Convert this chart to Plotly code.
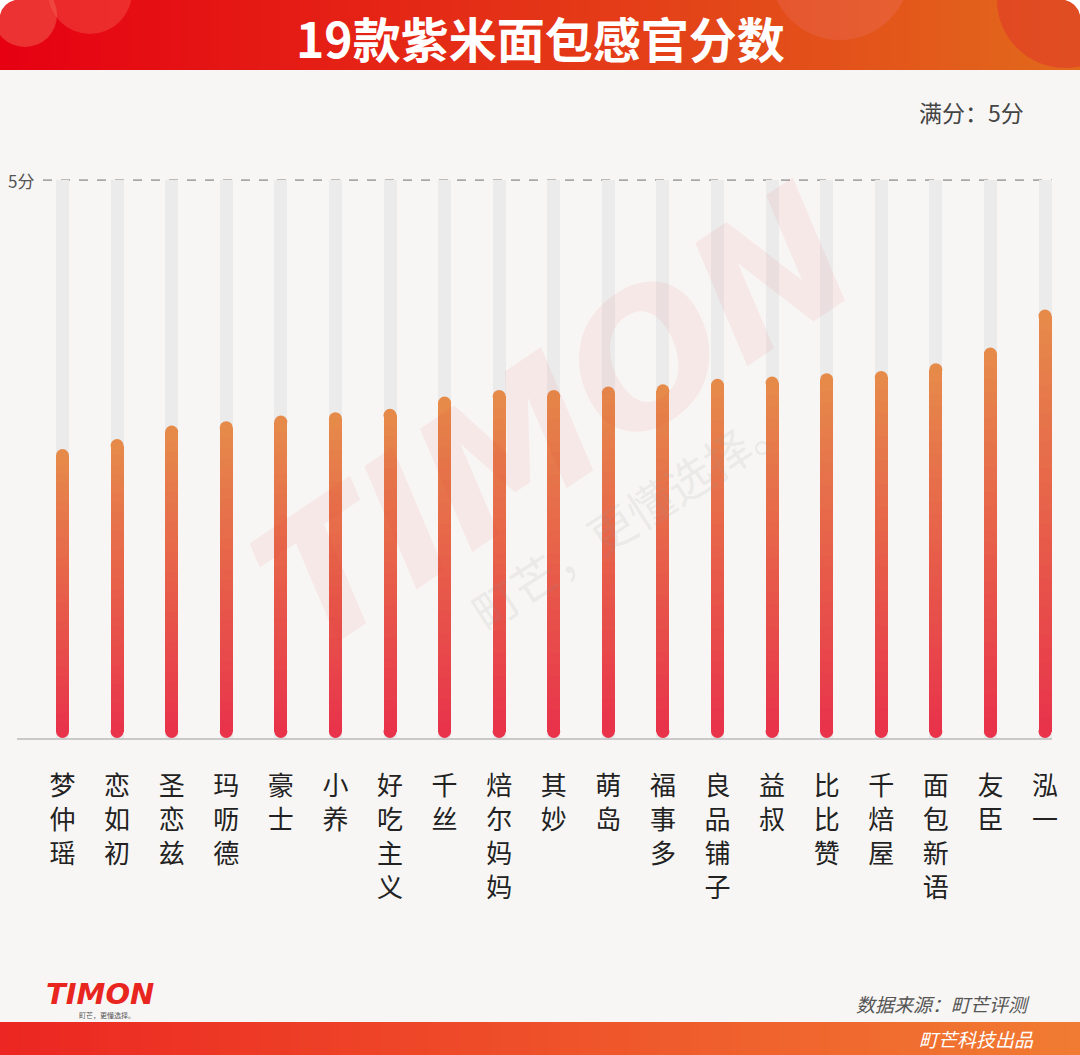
import plotly.graph_objects as go

# ---------------- data ----------------
brands = ["梦仲瑶", "恋如初", "圣恋兹", "玛呖德", "豪士", "小养", "好吃主义", "千丝", "焙尔妈妈",
          "其妙", "萌岛", "福事多", "良品铺子", "益叔", "比比赞", "千焙屋", "面包新语", "友臣", "泓一"]
scores = [2.59, 2.68, 2.80, 2.84, 2.89, 2.92, 2.95, 3.06, 3.12,
          3.12, 3.15, 3.17, 3.22, 3.24, 3.27, 3.29, 3.36, 3.50, 3.84]
full_score = 5
full_scores = [full_score] * len(brands)
y_tick_label = "5分"

# ---------------- geometry helpers ----------------
W, H = 1080, 1055
ML, MR, MT, MB = 17, 28, 169, 317
PW, PH = W - ML - MR, H - MT - MB
Y_MAX = 5.1
PX_PER_UNIT = PH / Y_MAX


def px_x(px):
    return (px - ML) / PW


def px_y(py):
    return (H - MB - py) / PH


def lerp(c1, c2, t):
    return tuple(round(a + (b - a) * t) for a, b in zip(c1, c2))


def rgb(c):
    return "rgb(%d,%d,%d)" % c


BG = "#f8f6f4"
xs = list(range(len(brands)))
x0c, x1c = 62.5, 1045.0
sp = (x1c - x0c) / (len(brands) - 1)
bar_px = 13
bar_w = bar_px / sp
rd = (bar_px / 2) / PX_PER_UNIT  # cap radius in data units

fig = go.Figure()

# grey full-score tracks
fig.add_trace(go.Bar(x=xs, y=full_scores, width=bar_w, marker=dict(color="#ebebeb", line=dict(width=0)),
                     hoverinfo="skip", showlegend=False))

# gradient bars built from stacked segments
N = 30
bottom_c = (232, 51, 74)
top_c = (230, 138, 74)
ov = 0.01
body = [v - 2 * rd for v in scores]
for k in range(N):
    t = (k + 0.5) / N
    col = rgb(lerp(bottom_c, top_c, t))
    base = [rd + b * k / N for b in body]
    ys = [b / N + (ov if k < N - 1 else 0) for b in body]
    fig.add_trace(go.Bar(x=xs, y=ys, base=base, width=bar_w,
                         marker=dict(color=col, line=dict(width=0)),
                         hoverinfo="skip", showlegend=False))
# round caps
fig.add_trace(go.Scatter(x=xs, y=[rd] * len(xs), mode="markers",
                         marker=dict(size=bar_px, color=rgb(bottom_c), line=dict(width=0)),
                         hoverinfo="skip", showlegend=False))
fig.add_trace(go.Scatter(x=xs, y=[v - rd for v in scores], mode="markers",
                         marker=dict(size=bar_px, color=rgb(top_c), line=dict(width=0)),
                         hoverinfo="skip", showlegend=False))

shapes = []
annotations = []

# header gradient
hdr_l, hdr_r = (230, 0, 18), (226, 106, 28)
step = 10
for i in range(0, W, step):
    c = lerp(hdr_l, hdr_r, i / W)
    shapes.append(dict(type="rect", xref="paper", yref="paper", x0=px_x(i), x1=px_x(i + step + 1),
                       y0=px_y(70), y1=px_y(0), fillcolor=rgb(c), line=dict(width=0), layer="above"))
# decorative circles in header
for cx, cy, r, fc in [(25, 15, 32, "rgba(245,110,90,0.45)"), (90, -8, 42, "rgba(245,110,90,0.35)"),
                      (1065, 0, 68, "rgba(225,45,45,0.45)"), (840, -30, 70, "rgba(240,120,120,0.25)")]:
    shapes.append(dict(type="circle", xref="paper", yref="paper", x0=px_x(cx - r), x1=px_x(cx + r),
                       y0=px_y(cy + r), y1=px_y(cy - r), fillcolor=fc, line=dict(width=0), layer="above"))
# clean area below header (circles spill guard)
shapes.append(dict(type="rect", xref="paper", yref="paper", x0=px_x(0), x1=px_x(W), y0=px_y(100), y1=px_y(70),
                   fillcolor=BG, line=dict(width=0), layer="above"))
# rounded top corners
r = 22
shapes.append(dict(type="path", xref="paper", yref="paper", layer="above", fillcolor="#ffffff", line=dict(width=0),
                   path="M %f,%f L %f,%f Q %f,%f %f,%f Z" % (px_x(-1), px_y(-1), px_x(r), px_y(-1),
                                                             px_x(0), px_y(0), px_x(-1), px_y(r))))
shapes.append(dict(type="path", xref="paper", yref="paper", layer="above", fillcolor="#ffffff", line=dict(width=0),
                   path="M %f,%f L %f,%f Q %f,%f %f,%f Z" % (px_x(W + 1), px_y(-1), px_x(W - r), px_y(-1),
                                                             px_x(W), px_y(0), px_x(W + 1), px_y(r))))

# footer gradient
ft_l, ft_r = (236, 38, 34), (241, 124, 50)
for i in range(0, W, step):
    c = lerp(ft_l, ft_r, i / W)
    shapes.append(dict(type="rect", xref="paper", yref="paper", x0=px_x(i), x1=px_x(i + step + 1),
                       y0=px_y(H + 2), y1=px_y(1022), fillcolor=rgb(c), line=dict(width=0), layer="above"))

# dashed full-score line
shapes.append(dict(type="line", xref="paper", yref="y", x0=px_x(43), x1=1, y0=full_score, y1=full_score,
                   line=dict(color="#a8a8a8", width=1.6, dash="dash"), layer="below"))

# texts
annotations.append(dict(text="<b>19款紫米面包感官分数</b>", xref="paper", yref="paper", x=px_x(540), y=px_y(37),
                        showarrow=False, font=dict(family="Noto Sans CJK SC", size=48, color="#ffffff"),
                        xanchor="center", yanchor="middle"))
annotations.append(dict(text="满分：5分", xref="paper", yref="paper", x=px_x(1026), y=px_y(112),
                        showarrow=False, font=dict(family="Noto Sans CJK SC", size=23, color="#444444"),
                        xanchor="right", yanchor="middle"))
annotations.append(dict(text=y_tick_label, xref="paper", yref="y", x=px_x(6), y=full_score,
                        showarrow=False, font=dict(family="Noto Sans CJK SC", size=17, color="#555555"),
                        xanchor="left", yanchor="middle"))
# watermark
annotations.append(dict(text="<b><i>TIMON</i></b>", xref="paper", yref="paper", x=px_x(555), y=px_y(420),
                        showarrow=False, textangle=-34,
                        font=dict(family="DejaVu Sans", size=180, color="rgba(232,60,60,0.07)"),
                        xanchor="center", yanchor="middle"))
annotations.append(dict(text="町芒，更懂选择。", xref="paper", yref="paper", x=px_x(630), y=px_y(515),
                        showarrow=False, textangle=-33,
                        font=dict(family="Noto Sans CJK SC", size=46, color="rgba(150,150,150,0.15)"),
                        xanchor="center", yanchor="middle"))
# bottom logo and source
annotations.append(dict(text="<b><i>TIMON</i></b>", xref="paper", yref="paper", x=px_x(44), y=px_y(994),
                        showarrow=False, font=dict(family="DejaVu Sans", size=29, color="#e8251f"),
                        xanchor="left", yanchor="middle"))
annotations.append(dict(text="町芒，更懂选择。", xref="paper", yref="paper", x=px_x(77), y=px_y(1015),
                        showarrow=False, font=dict(family="Noto Sans CJK SC", size=7, color="#555555"),
                        xanchor="left", yanchor="middle"))
annotations.append(dict(text="<i>数据来源：町芒评测</i>", xref="paper", yref="paper", x=px_x(1032), y=px_y(1003),
                        showarrow=False, font=dict(family="Noto Sans CJK SC", size=19, color="#555555"),
                        xanchor="right", yanchor="middle"))
annotations.append(dict(text="<i>町芒科技出品</i>", xref="paper", yref="paper", x=px_x(1036), y=px_y(1038),
                        showarrow=False, font=dict(family="Noto Sans CJK SC", size=19, color="#ffffff"),
                        xanchor="right", yanchor="middle"))

xr = [(ML - x0c) / sp, (W - MR - x0c) / sp]

fig.update_layout(
    width=W, height=H,
    margin=dict(l=ML, r=MR, t=MT, b=MB),
    paper_bgcolor=BG, plot_bgcolor=BG,
    barmode="overlay", bargap=0,
    showlegend=False, hovermode=False,
    shapes=shapes, annotations=annotations,
    xaxis=dict(range=xr, tickmode="array", tickvals=xs, ticktext=["<br>".join(list(b)) for b in brands],
               tickfont=dict(family="Noto Sans CJK SC", size=26, color="#222222"),
               showline=True, linecolor="#c9c9c9", linewidth=2, showgrid=False, zeroline=False,
               ticks="outside", ticklen=24, tickcolor="rgba(0,0,0,0)", fixedrange=True),
    yaxis=dict(range=[0, Y_MAX], showticklabels=False, showgrid=False, zeroline=False, showline=False,
               fixedrange=True),
)

fig.write_html("out.html")
